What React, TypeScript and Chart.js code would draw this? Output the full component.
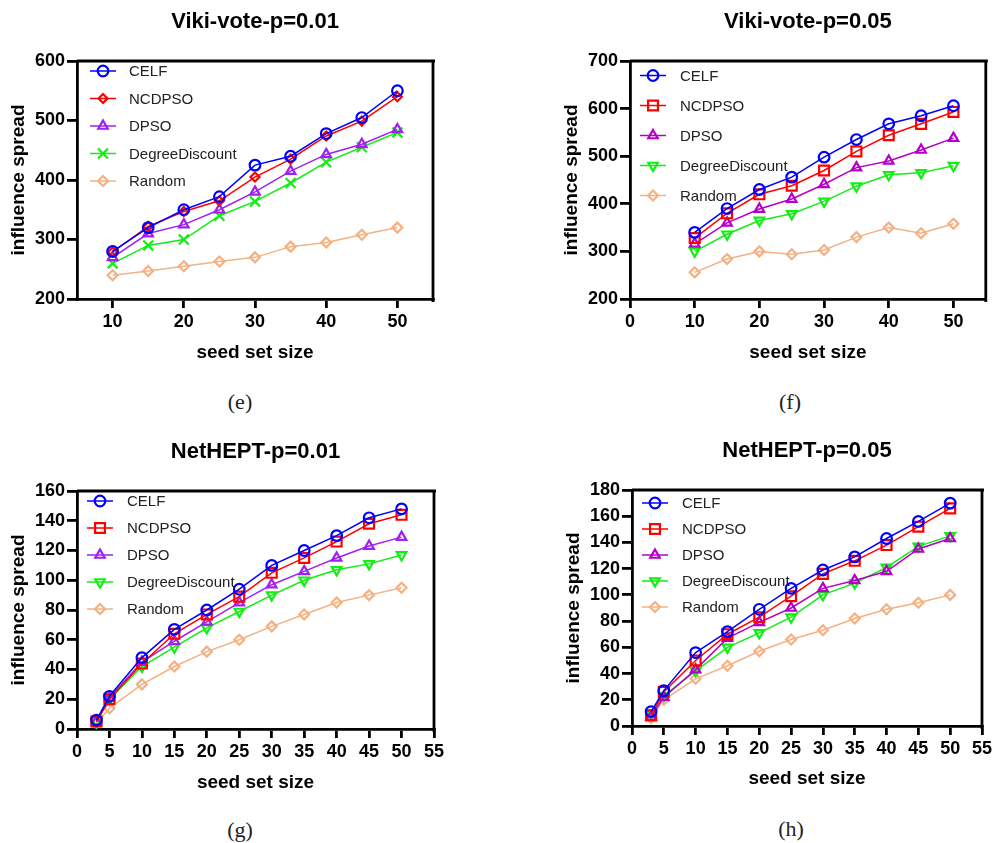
import React, { useEffect, useRef } from 'react';
import { Chart, registerables } from 'chart.js';
import { drawPoint } from 'chart.js/helpers';

Chart.register(...registerables);

const SANS = '"Liberation Sans", Arial, Helvetica, sans-serif';
const SERIF = '"Liberation Serif", "Times New Roman", serif';

// ---------- data ----------
const seriesNames = ['CELF', 'NCDPSO', 'DPSO', 'DegreeDiscount', 'Random'];

const vikiSeeds = [10, 15, 20, 25, 30, 35, 40, 45, 50];
const netSeeds = [3, 5, 10, 15, 20, 25, 30, 35, 40, 45, 50];

const vikiP01XTicks = [10, 20, 30, 40, 50];
const vikiP05XTicks = [0, 10, 20, 30, 40, 50];
const netXTicks = [0, 5, 10, 15, 20, 25, 30, 35, 40, 45, 50, 55];

const vikiP01YTicks = [200, 300, 400, 500, 600];
const vikiP05YTicks = [200, 300, 400, 500, 600, 700];
const netP01YTicks = [0, 20, 40, 60, 80, 100, 120, 140, 160];
const netP05YTicks = [0, 20, 40, 60, 80, 100, 120, 140, 160, 180];

// (e) Viki-vote p=0.01
const vikiP01CELF = [280, 320, 350, 372, 425, 440, 478, 505, 550];
const vikiP01NCDPSO = [279, 322, 347, 365, 405, 435, 474, 499, 540];
const vikiP01DPSO = [270, 310, 325, 350, 380, 415, 443, 460, 485];
const vikiP01DD = [260, 290, 300, 340, 364, 395, 430, 455, 480];
const vikiP01Random = [240, 247, 255, 263, 270, 288, 295, 308, 320];

// (f) Viki-vote p=0.05
const vikiP05CELF = [340, 390, 430, 456, 498, 535, 568, 585, 606];
const vikiP05NCDPSO = [328, 380, 420, 438, 470, 510, 544, 568, 593];
const vikiP05DPSO = [316, 360, 389, 410, 441, 476, 490, 513, 538];
const vikiP05DD = [300, 336, 365, 379, 405, 437, 461, 465, 480];
const vikiP05Random = [256, 284, 300, 294, 303, 330, 350, 338, 358];

// (g) NetHEPT p=0.01
const netP01CELF = [6, 22, 48, 67, 80, 94, 110, 120, 130, 142, 148];
const netP01NCDPSO = [5, 20, 44, 64, 77, 89, 105, 115, 126, 138, 144];
const netP01DPSO = [5, 21, 45, 59, 72, 85, 97, 106, 115, 123, 129];
const netP01DD = [5, 20, 42, 55, 68, 79, 90, 100, 107, 111, 117];
const netP01Random = [4, 14, 30, 42, 52, 60, 69, 77, 85, 90, 95];

// (h) NetHEPT p=0.05
const netP05CELF = [11, 27, 56, 72, 89, 105, 119, 129, 143, 156, 170];
const netP05NCDPSO = [8, 26, 50, 70, 83, 99, 116, 126, 138, 152, 166];
const netP05DPSO = [7, 22, 43, 67, 79, 90, 105, 111, 118, 135, 143];
const netP05DD = [10, 23, 42, 60, 71, 83, 100, 109, 121, 137, 145];
const netP05Random = [6, 20, 36, 46, 57, 66, 73, 82, 89, 94, 100];

// ---------- styles ----------
type MarkStyle = { color: string; pointStyle: string; rotation: number; radius: number };

const stylesE: MarkStyle[] = [
  { color: '#0000ff', pointStyle: 'circle', rotation: 0, radius: 5.3 },
  { color: '#ff0000', pointStyle: 'rectRot', rotation: 0, radius: 4.5 },
  { color: '#a020f0', pointStyle: 'triangle', rotation: 0, radius: 5.5 },
  { color: '#11ee11', pointStyle: 'crossRot', rotation: 0, radius: 7 },
  { color: '#f4b183', pointStyle: 'rectRot', rotation: 0, radius: 5 },
];
const stylesF: MarkStyle[] = [
  { color: '#0000ff', pointStyle: 'circle', rotation: 0, radius: 5.3 },
  { color: '#ff0000', pointStyle: 'rect', rotation: 0, radius: 7 },
  { color: '#b400c8', pointStyle: 'triangle', rotation: 0, radius: 5.5 },
  { color: '#11ee11', pointStyle: 'triangle', rotation: 180, radius: 5.5 },
  { color: '#f4b183', pointStyle: 'rectRot', rotation: 0, radius: 5 },
];
const stylesG: MarkStyle[] = [
  { color: '#0000ff', pointStyle: 'circle', rotation: 0, radius: 5.3 },
  { color: '#ff0000', pointStyle: 'rect', rotation: 0, radius: 7 },
  { color: '#a020f0', pointStyle: 'triangle', rotation: 0, radius: 5.5 },
  { color: '#11ee11', pointStyle: 'triangle', rotation: 180, radius: 5.5 },
  { color: '#f4b183', pointStyle: 'rectRot', rotation: 0, radius: 5 },
];

type Panel = {
  title: string;
  caption: string;
  left: number;
  top: number;
  width: number;
  height: number;
  padTop: number;
  padRight: number;
  xScaleH: number;
  xMin: number;
  xMax: number;
  xTicks: number[];
  yMin: number;
  yMax: number;
  yTicks: number[];
  xs: number[];
  series: number[][];
  styles: MarkStyle[];
  legend: { x0: number; textX: number; top: number; step: number };
  captionX: number;
  captionY: number;
};

const panels: Panel[] = [
  {
    title: 'Viki-vote-p=0.01', caption: '(e)',
    left: 0, top: 0, width: 460, height: 368, padTop: 61, padRight: 27, xScaleH: 69,
    xMin: 5, xMax: 55, xTicks: vikiP01XTicks, yMin: 200, yMax: 600, yTicks: vikiP01YTicks,
    xs: vikiSeeds,
    series: [vikiP01CELF, vikiP01NCDPSO, vikiP01DPSO, vikiP01DD, vikiP01Random],
    styles: stylesE,
    legend: { x0: 13, textX: 52, top: 10, step: 27.5 },
    captionX: 240, captionY: 402,
  },
  {
    title: 'Viki-vote-p=0.05', caption: '(f)',
    left: 553, top: 0, width: 442, height: 368, padTop: 61, padRight: 8, xScaleH: 69,
    xMin: 0, xMax: 55, xTicks: vikiP05XTicks, yMin: 200, yMax: 700, yTicks: vikiP05YTicks,
    xs: vikiSeeds,
    series: [vikiP05CELF, vikiP05NCDPSO, vikiP05DPSO, vikiP05DD, vikiP05Random],
    styles: stylesF,
    legend: { x0: 10, textX: 50, top: 14.5, step: 30 },
    captionX: 790, captionY: 402,
  },
  {
    title: 'NetHEPT-p=0.01', caption: '(g)',
    left: 0, top: 430, width: 460, height: 368, padTop: 61, padRight: 26, xScaleH: 69,
    xMin: 0, xMax: 55, xTicks: netXTicks, yMin: 0, yMax: 160, yTicks: netP01YTicks,
    xs: netSeeds,
    series: [netP01CELF, netP01NCDPSO, netP01DPSO, netP01DD, netP01Random],
    styles: stylesG,
    legend: { x0: 10, textX: 50, top: 10, step: 27 },
    captionX: 240, captionY: 830,
  },
  {
    title: 'NetHEPT-p=0.05', caption: '(h)',
    left: 555, top: 430, width: 440, height: 364, padTop: 60, padRight: 10, xScaleH: 68,
    xMin: 0, xMax: 55, xTicks: netXTicks, yMin: 0, yMax: 180, yTicks: netP05YTicks,
    xs: netSeeds,
    series: [netP05CELF, netP05NCDPSO, netP05DPSO, netP05DD, netP05Random],
    styles: stylesF,
    legend: { x0: 10, textX: 50, top: 13, step: 26 },
    captionX: 791, captionY: 829,
  },
];

// ---------- plugins ----------
const framePlugin = {
  id: 'panelFrame',
  beforeDatasetsDraw(chart: any) {
    const { ctx, chartArea: a } = chart;
    ctx.save();
    ctx.strokeStyle = '#000';
    ctx.lineWidth = 2.8;
    ctx.beginPath();
    ctx.moveTo(a.left, a.top);
    ctx.lineTo(a.right + 2, a.top);
    ctx.moveTo(a.right, a.top);
    ctx.lineTo(a.right, a.bottom + 3);
    ctx.stroke();
    ctx.restore();
  },
};

const titlePlugin = {
  id: 'panelTitle',
  afterDraw(chart: any, _args: any, opts: any) {
    const { ctx, chartArea: a } = chart;
    ctx.save();
    ctx.fillStyle = '#000';
    ctx.font = `bold 22px ${SANS}`;
    ctx.textAlign = 'center';
    ctx.textBaseline = 'middle';
    ctx.fillText(opts.text, (a.left + a.right) / 2, a.top - 39);
    ctx.restore();
  },
};

const legendPlugin = {
  id: 'panelLegend',
  afterDraw(chart: any, _args: any, opts: any) {
    const { ctx, chartArea: a } = chart;
    ctx.save();
    chart.data.datasets.forEach((ds: any, i: number) => {
      const y = a.top + opts.top + i * opts.step;
      const x0 = a.left + opts.x0;
      const x1 = x0 + 26;
      ctx.strokeStyle = ds.borderColor;
      ctx.lineWidth = ds.borderWidth;
      ctx.beginPath();
      ctx.moveTo(x0, y);
      ctx.lineTo(x1, y);
      ctx.stroke();
      ctx.fillStyle = 'rgba(0,0,0,0)';
      ctx.strokeStyle = ds.pointBorderColor;
      ctx.lineWidth = ds.pointBorderWidth;
      drawPoint(ctx, {
        pointStyle: ds.pointStyle,
        rotation: ds.pointRotation,
        radius: ds.pointRadius,
        borderWidth: ds.pointBorderWidth,
      } as any, (x0 + x1) / 2, y);
      ctx.fillStyle = '#222';
      ctx.font = `15px ${SANS}`;
      ctx.textAlign = 'left';
      ctx.textBaseline = 'middle';
      ctx.fillText(ds.label, a.left + opts.textX, y + 1);
    });
    ctx.restore();
  },
};

function PanelChart({ p }: { p: Panel }) {
  const ref = useRef<HTMLCanvasElement | null>(null);
  useEffect(() => {
    if (!ref.current) return;
    const datasets = p.series.map((ys, i) => {
      const s = p.styles[i];
      return {
        label: seriesNames[i],
        data: p.xs.map((x, j) => ({ x, y: ys[j] })),
        borderColor: s.color,
        backgroundColor: 'rgba(0,0,0,0)',
        borderWidth: 1.5,
        pointStyle: s.pointStyle,
        pointRotation: s.rotation,
        pointRadius: s.radius,
        pointBorderWidth: 2.2,
        pointBorderColor: s.color,
        pointBackgroundColor: 'rgba(0,0,0,0)',
        tension: 0,
        clip: false,
      };
    });
    const tickFont = { family: SANS, size: 18, weight: 'bold' as const };
    const titleFont = { family: SANS, size: 19, weight: 'bold' as const };
    const chart = new Chart(ref.current, {
      type: 'line',
      data: { datasets: datasets as any },
      plugins: [framePlugin, titlePlugin, legendPlugin] as any,
      options: {
        responsive: false,
        animation: false,
        devicePixelRatio: 1,
        layout: { padding: { top: p.padTop, left: 0, right: p.padRight, bottom: 0 } },
        plugins: {
          legend: { display: false },
          title: { display: false },
          tooltip: { enabled: false },
          panelTitle: { text: p.title },
          panelLegend: p.legend,
        } as any,
        scales: {
          x: {
            type: 'linear',
            min: p.xMin,
            max: p.xMax,
            afterBuildTicks: (s: any) => { s.ticks = p.xTicks.map((v) => ({ value: v })); },
            afterFit: (s: any) => { s.height = p.xScaleH; },
            grid: { drawOnChartArea: false, drawTicks: true, tickLength: 9, color: '#000', lineWidth: 2.8 },
            border: { display: true, color: '#000', width: 2.8 },
            ticks: { color: '#000', font: tickFont, padding: 3, maxRotation: 0, autoSkip: false },
            title: { display: true, text: 'seed set size', color: '#000', font: titleFont, padding: 4 },
          },
          y: {
            type: 'linear',
            min: p.yMin,
            max: p.yMax,
            afterBuildTicks: (s: any) => { s.ticks = p.yTicks.map((v) => ({ value: v })); },
            afterFit: (s: any) => { s.width = 77; },
            grid: { drawOnChartArea: false, drawTicks: true, tickLength: 10, color: '#000', lineWidth: 2.8 },
            border: { display: true, color: '#000', width: 2.8 },
            ticks: { color: '#000', font: tickFont, padding: 2, autoSkip: false },
            title: { display: true, text: 'influence spread', color: '#000', font: titleFont, padding: 7 },
          },
        },
      } as any,
    });
    return () => chart.destroy();
  }, [p]);
  return (
    <canvas
      ref={ref}
      width={p.width}
      height={p.height}
      style={{ position: 'absolute', left: p.left, top: p.top, width: p.width, height: p.height }}
    />
  );
}

export default function App() {
  return (
    <div style={{ position: 'fixed', left: 0, top: 0, width: 995, height: 843, background: '#fff', overflow: 'hidden' }}>
      {panels.map((p) => (
        <PanelChart key={p.caption} p={p} />
      ))}
      {panels.map((p) => (
        <div
          key={'cap' + p.caption}
          style={{
            position: 'absolute',
            left: p.captionX,
            top: p.captionY,
            transform: 'translate(-50%, -50%)',
            fontFamily: SERIF,
            fontSize: 22,
            color: '#222',
            lineHeight: 1,
          }}
        >
          {p.caption}
        </div>
      ))}
    </div>
  );
}
